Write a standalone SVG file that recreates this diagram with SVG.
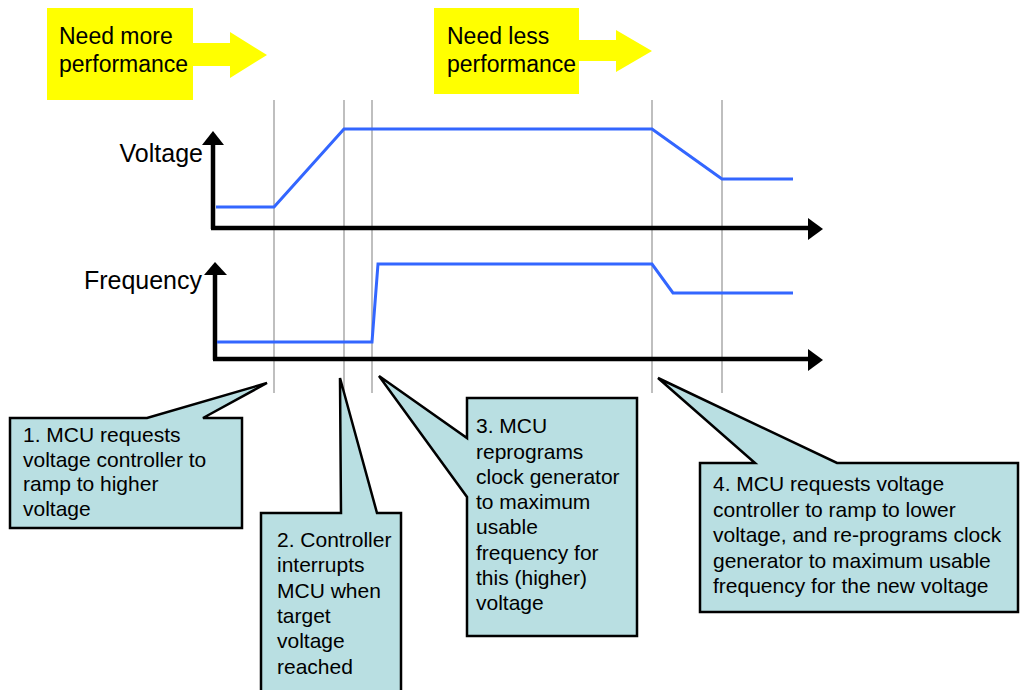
<svg xmlns="http://www.w3.org/2000/svg" width="1020" height="690" viewBox="0 0 1020 690">
<style>
text{font-family:"Liberation Sans",Arial,sans-serif;fill:#000}
.banner{font-size:23px}
.axlab{font-size:25px}
.note{font-size:21px}
.yel{fill:#FFFF00}
.grid{stroke:#BFBFBF;stroke-width:2;fill:none}
.axis{stroke:#000;stroke-width:4.5;fill:none}
.head{fill:#000}
.sig{stroke:#3366FF;stroke-width:3;fill:none;stroke-linejoin:miter}
.callout{fill:#B9DFE2;stroke:#000;stroke-width:2.5;stroke-linejoin:miter}
</style>
<rect width="1020" height="690" fill="#fff"/>

<g id="banner-more">
<rect class="yel" x="47" y="8" width="146" height="92"/>
<polygon class="yel" points="192,43 230,43 230,32 267,55 230,78 230,66 192,66"/>
<text class="banner" x="59" y="44">Need more</text>
<text class="banner" x="59" y="72">performance</text>
</g>

<g id="banner-less">
<rect class="yel" x="434" y="8" width="145" height="86"/>
<polygon class="yel" points="578,40 616,40 616,30 652,51 616,72 616,61 578,61"/>
<text class="banner" x="447" y="44">Need less</text>
<text class="banner" x="447" y="72">performance</text>
</g>

<g id="gridlines">
<line class="grid" x1="274" y1="100" x2="274" y2="393"/>
<line class="grid" x1="344" y1="100" x2="344" y2="393"/>
<line class="grid" x1="372" y1="100" x2="372" y2="393"/>
<line class="grid" x1="652" y1="100" x2="652" y2="393"/>
<line class="grid" x1="722" y1="100" x2="722" y2="393"/>
</g>

<g id="voltage-chart">
<line class="axis" x1="213" y1="229" x2="213" y2="143"/>
<polygon class="head" points="202,145 213,131 224,145"/>
<line class="axis" x1="211" y1="228" x2="810" y2="228"/>
<polygon class="head" points="808,218 823,229 808,240"/>
<text class="axlab" x="203" y="162" text-anchor="end">Voltage</text>
<polyline class="sig" points="216,207 274,207 344,129 652,129 722,179 793,179"/>
</g>

<g id="frequency-chart">
<line class="axis" x1="215" y1="360" x2="215" y2="273"/>
<polygon class="head" points="204,275 215,262 227,275"/>
<line class="axis" x1="213" y1="359" x2="810" y2="359"/>
<polygon class="head" points="808,349 823,360 808,371"/>
<text class="axlab" x="202" y="289" text-anchor="end">Frequency</text>
<polyline class="sig" points="217,342 372,342 378,264 652,264 673,293 793,293"/>
</g>

<g id="callout-1">
<path class="callout" d="M10,418 L147,418 L267,383 L203,418 L242,418 L242,528 L10,528 Z"/>
<text class="note" x="23" y="442">1. MCU requests</text>
<text class="note" x="23" y="466.5">voltage controller to</text>
<text class="note" x="23" y="491">ramp to higher</text>
<text class="note" x="23" y="515.5">voltage</text>
</g>

<g id="callout-2">
<path class="callout" d="M261,513 L341,513 L340,378 L377,513 L401,513 L401,700 L261,700 Z"/>
<text class="note" x="277" y="547">2. Controller</text>
<text class="note" x="277" y="572">interrupts</text>
<text class="note" x="277" y="597.5">MCU when</text>
<text class="note" x="277" y="623">target</text>
<text class="note" x="277" y="648">voltage</text>
<text class="note" x="277" y="673.5">reached</text>
</g>

<g id="callout-3">
<path class="callout" d="M467,398 L637,398 L637,636 L467,636 L467,497 L379,376 L467,438 Z"/>
<text class="note" x="476" y="433">3. MCU</text>
<text class="note" x="476" y="458.5">reprograms</text>
<text class="note" x="476" y="483.5">clock generator</text>
<text class="note" x="476" y="509">to maximum</text>
<text class="note" x="476" y="534">usable</text>
<text class="note" x="476" y="559.5">frequency for</text>
<text class="note" x="476" y="584.5">this (higher)</text>
<text class="note" x="476" y="610">voltage</text>
</g>

<g id="callout-4">
<path class="callout" d="M700,463 L755,463 L658,378 L837,463 L1018,463 L1018,612 L700,612 Z"/>
<text class="note" x="713" y="491">4. MCU requests voltage</text>
<text class="note" x="713" y="516.5">controller to ramp to lower</text>
<text class="note" x="713" y="542">voltage, and re-programs clock</text>
<text class="note" x="713" y="567.5">generator to maximum usable</text>
<text class="note" x="713" y="593">frequency for the new voltage</text>
</g>
</svg>
